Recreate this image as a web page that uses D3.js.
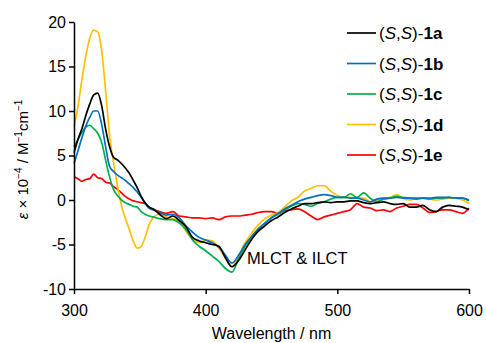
<!DOCTYPE html>
<html>
<head>
<meta charset="utf-8">
<script src="https://cdn.jsdelivr.net/npm/d3@7"></script>
<style>
  body { margin: 0; background: #fff; }
  text { font-family: "Liberation Sans", Arial, sans-serif; fill: #000; }
</style>
</head>
<body>
<svg id="chart" width="486" height="343"></svg>
<script>
// wavelength grid (nm)
const wavelengths = [300, 303, 306, 309, 312, 315, 318, 321, 324, 327, 330, 333, 336, 339, 342, 345, 348, 351, 354, 357, 360,
  365, 370, 375, 380, 385, 390, 395, 400, 405, 410, 415, 420, 425, 430, 435, 440, 445, 450, 455, 460, 465, 470, 475, 480,
  485, 490, 495, 500, 505, 510, 515, 520, 525, 530, 535, 540, 545, 550, 555, 560, 565, 570, 575, 580, 585, 590, 595, 600];

const labels = ['1a', '1b', '1c', '1d', '1e'];
const colors = ['#000000', '#0070C0', '#00B050', '#FFC000', '#FF0000'];

// epsilon x 10^-4 / M^-1 cm^-1
const eps1a = [5.3, 6.8, 8.0, 9.5, 10.8, 11.8, 12.0, 10.6, 8.0, 6.0, 4.8, 4.5, 4.1, 3.6, 3.0, 2.2, 1.4, 0.4, -0.3, -0.8, -1.0,
  -1.6, -2.1, -1.8, -2.3, -3.0, -4.2, -4.6, -4.8, -5.0, -5.2, -6.5, -7.5, -6.8, -5.6, -4.4, -3.5, -2.9, -2.3, -1.9, -1.4,
  -1.0, -0.7, -0.4, -0.4, -0.3, -0.2, -0.3, -0.2, -0.2, -0.1, -0.1, -0.3, -0.4, -0.3, -0.2, -0.4, -0.5, -0.4, -0.8, -0.8,
  -0.6, -1.1, -1.3, -0.8, -0.6, -0.7, -0.8, -1.1];
const eps1b = [4.1, 5.5, 7.0, 8.3, 9.3, 10.0, 10.0, 8.5, 6.0, 3.8, 3.2, 2.8, 2.5, 2.2, 1.8, 1.4, 0.9, 0.3, -0.4, -0.9, -1.1,
  -1.4, -1.7, -1.6, -2.0, -2.9, -3.6, -4.2, -4.5, -4.8, -5.3, -6.2, -7.1, -6.2, -5.0, -4.1, -3.3, -2.6, -2.0, -1.5, -1.0,
  -0.6, -0.2, 0.1, 0.3, 0.5, 0.6, 0.5, 0.3, 0.3, 0.2, 0.2, 0.0, -0.2, 0.1, 0.2, 0.2, 0.3, 0.2, 0.2, 0.1,
  0.2, 0.2, 0.3, 0.3, 0.3, 0.2, 0.2, 0.0];
const eps1c = [6.0, 6.8, 7.6, 8.2, 8.4, 8.0, 7.5, 6.5, 4.5, 2.6, 1.2, 0.5, 0.0, -0.3, -0.5, -0.7, -0.8, -1.3, -1.6, -1.8, -1.9,
  -2.1, -2.2, -2.2, -2.6, -3.3, -4.5, -5.2, -5.7, -6.3, -6.9, -7.7, -8.1, -6.6, -5.2, -4.1, -3.2, -2.6, -2.0, -1.6, -1.1,
  -0.7, -0.4, -0.5, -0.7, -0.4, -0.2, 0.1, 0.3, 0.3, 0.7, 0.3, 0.8, 0.2, -0.2, 0.1, 0.2, 0.4, 0.3, 0.2, 0.2,
  0.2, 0.1, 0.2, 0.2, 0.3, 0.2, 0.2, -0.1];
const eps1d = [8.2, 10.5, 13.5, 16.2, 18.2, 19.1, 18.9, 16.8, 12.3, 7.3, 4.2, 1.6, -0.6, -2.1, -3.3, -4.6, -5.4, -5.2, -4.2, -2.8, -2.0,
  -1.6, -1.9, -2.1, -2.4, -3.5, -4.4, -4.8, -4.5, -4.6, -5.4, -6.5, -7.5, -6.3, -4.8, -3.7, -2.8, -2.1, -1.7, -1.4, -0.8,
  -0.1, 0.3, 1.0, 1.3, 1.6, 1.6, 1.0, 0.5, 0.3, 0.3, 0.2, 0.2, -0.2, 0.0, 0.1, 0.3, 0.6, 0.2, 0.0, 0.2,
  0.2, 0.1, 0.0, 0.1, 0.2, 0.2, 0.0, -0.4];
const eps1e = [2.6, 2.4, 2.1, 2.3, 2.4, 2.9, 2.5, 2.4, 2.0, 1.9, 1.5, 1.2, 0.8, 0.4, 0.1, -0.1, -0.2, -0.3, -0.4, -0.8, -1.0,
  -1.3, -1.5, -1.3, -1.8, -1.9, -2.0, -2.0, -2.1, -2.0, -2.2, -1.9, -1.8, -1.8, -1.7, -1.6, -1.4, -1.3, -1.3, -1.5, -1.2,
  -1.1, -1.0, -1.3, -1.8, -2.2, -1.9, -1.7, -1.5, -1.3, -1.1, -0.4, -0.8, -0.9, -1.2, -1.1, -1.3, -0.9, -0.7, -0.5, -0.5,
  -0.9, -1.4, -1.3, -1.1, -1.1, -1.3, -1.5, -0.9];

const seriesValues = [eps1a, eps1b, eps1c, eps1d, eps1e];
const xTicks = [300, 400, 500, 600];
const yTicks = [-10, -5, 0, 5, 10, 15, 20];

const svg = d3.select('#chart');
const margin = { left: 74, right: 17, top: 22, bottom: 54 };
const width = 486, height = 343;

const x = d3.scaleLinear().domain([300, 600]).range([margin.left, width - margin.right]);
const y = d3.scaleLinear().domain([-10, 20]).range([height - margin.bottom, margin.top]);

// series lines
const line = d3.line()
    .x(d => x(d[0]))
    .y(d => y(d[1]))
    .curve(d3.curveMonotoneX);

// red drawn first, black last
const order = [4, 3, 2, 1, 0];
order.forEach(i => {
    const pts = wavelengths.map((w, k) => [w, seriesValues[i][k]]);
    svg.append('path')
        .datum(pts)
        .attr('fill', 'none')
        .attr('stroke', colors[i])
        .attr('stroke-width', 1.7)
        .attr('stroke-linejoin', 'round')
        .attr('d', line);
});

// axes (plain hyphen for negatives, as in the original)
const fmt = d => String(d);
const xAxis = svg.append('g')
    .attr('transform', 'translate(0,' + y(-10) + ')')
    .call(d3.axisBottom(x).tickValues(xTicks).tickFormat(fmt).tickSize(5).tickSizeOuter(0));
const yAxis = svg.append('g')
    .attr('transform', 'translate(' + x(300) + ',0)')
    .call(d3.axisLeft(y).tickValues(yTicks).tickFormat(fmt).tickSize(5).tickSizeOuter(0));

[xAxis, yAxis].forEach(g => {
    g.select('.domain').attr('stroke', '#000').attr('stroke-width', 1.5);
    g.selectAll('.tick line').attr('stroke', '#000').attr('stroke-width', 1.5);
    g.selectAll('.tick text')
        .style('font-family', '"Liberation Sans", Arial, sans-serif')
        .style('font-size', '16px')
        .attr('fill', '#000');
});
xAxis.selectAll('.tick text').attr('dy', '1.2em');
yAxis.selectAll('.tick text').attr('x', -8);

// axis titles
svg.append('text')
    .attr('x', (x(300) + x(600)) / 2)
    .attr('y', 339)
    .attr('text-anchor', 'middle')
    .style('font-size', '16px')
    .text('Wavelength / nm');

const yTitle = svg.append('text')
    .attr('transform', 'translate(28,' + ((y(-10) + y(20)) / 2 + 4) + ') rotate(-90)')
    .attr('text-anchor', 'middle')
    .style('font-size', '15px');
yTitle.append('tspan').style('font-style', 'italic').text('ε');
yTitle.append('tspan').text(' × 10');
yTitle.append('tspan').attr('dy', -6).style('font-size', '10px').text('−4');
yTitle.append('tspan').attr('dy', 6).text(' / M');
yTitle.append('tspan').attr('dy', -6).style('font-size', '10px').text('−1');
yTitle.append('tspan').attr('dy', 6).text('cm');
yTitle.append('tspan').attr('dy', -6).style('font-size', '10px').text('−1');

// annotation
svg.append('text')
    .attr('x', 247)
    .attr('y', 264)
    .style('font-size', '16.5px')
    .text('MLCT & ILCT');

// legend
const legend = svg.append('g');
labels.forEach((lab, i) => {
    const ly = 33 + i * 30.5;
    legend.append('line')
        .attr('x1', 347).attr('x2', 376)
        .attr('y1', ly).attr('y2', ly)
        .attr('stroke', colors[i])
        .attr('stroke-width', 1.7);
    const t = legend.append('text')
        .attr('x', 379)
        .attr('y', ly + 6)
        .style('font-size', '17px');
    t.append('tspan').text('(');
    t.append('tspan').style('font-style', 'italic').text('S');
    t.append('tspan').text(',');
    t.append('tspan').style('font-style', 'italic').text('S');
    t.append('tspan').text(')-');
    t.append('tspan').style('font-weight', 'bold').text(lab);
});
</script>
</body>
</html>
